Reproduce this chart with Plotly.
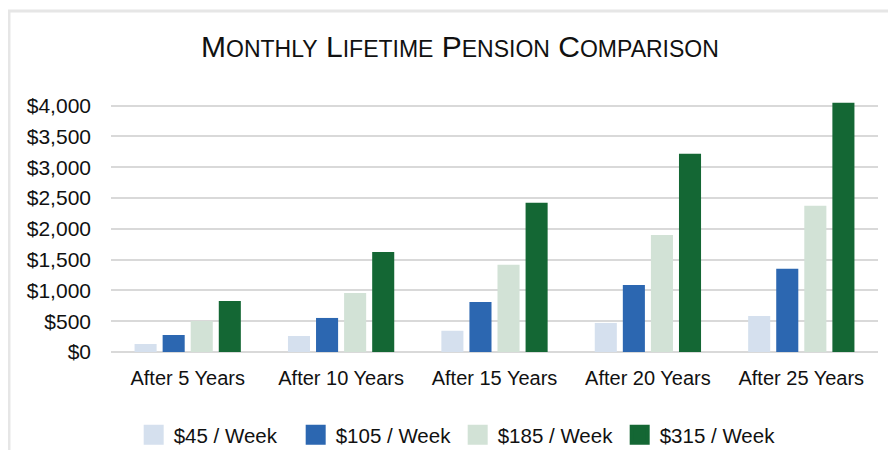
import plotly.graph_objects as go

categories = ["After 5 Years", "After 10 Years", "After 15 Years", "After 20 Years", "After 25 Years"]
series_names = ["$45 / Week", "$105 / Week", "$185 / Week", "$315 / Week"]
s45 = [130, 260, 345, 472, 585]
s105 = [276, 553, 813, 1089, 1350]
s185 = [504, 959, 1415, 1902, 2374]
s315 = [829, 1626, 2423, 3220, 4049]
y_tickvals = [0, 500, 1000, 1500, 2000, 2500, 3000, 3500, 4000]
y_ticktext = ["$0", "$500", "$1,000", "$1,500", "$2,000", "$2,500", "$3,000", "$3,500", "$4,000"]

colors = ["#d5e0ee", "#2c67b1", "#d2e2d6", "#146734"]
FONT = "Liberation Sans, Arial, sans-serif"

fig = go.Figure()
for name, vals, col in zip(series_names, [s45, s105, s185, s315], colors):
    fig.add_trace(go.Bar(x=categories, y=vals, name=name, marker_color=col,
                         marker_line_width=0, showlegend=False))
    # legend proxy with larger square swatch
    fig.add_trace(go.Scatter(x=[None], y=[None], mode="markers", name=name,
                             marker=dict(symbol="square", size=16, color=col,
                                         line=dict(color=col, width=4)),
                             showlegend=True))

def smallcaps(text, big=30, small=23):
    out = []
    for word in text.split(" "):
        out.append(f"<span style='font-size:{big}px'>{word[0]}</span>"
                   f"<span style='font-size:{small}px'>{word[1:].upper()}</span>")
    return " ".join(out)

fig.update_layout(
    width=880, height=442,
    margin=dict(l=103, r=10, t=94, b=98),
    paper_bgcolor="white", plot_bgcolor="white",
    font=dict(family=FONT, size=20, color="#111111"),
    title=dict(text=smallcaps("Monthly Lifetime Pension Comparison"),
               x=0.5136, xref="container", xanchor="center",
               y=0.9118, yref="container", yanchor="middle",
               font=dict(family=FONT, size=30, color="#111111")),
    barmode="group", bargap=0.268, bargroupgap=0.214,
    xaxis=dict(showgrid=False, showline=False, zeroline=False, automargin=False,
               tickfont=dict(size=20), ticklabelstandoff=12),
    yaxis=dict(range=[0, 4060], tickvals=y_tickvals, ticktext=y_ticktext,
               showgrid=True, gridcolor="#d9d9d9", gridwidth=1.5,
               zeroline=True, zerolinecolor="#d9d9d9", zerolinewidth=1.5,
               automargin=False,
               showline=False, tickfont=dict(size=21), ticklabelstandoff=19),
    legend=dict(orientation="h", x=0.452, xanchor="center",
                y=0.034, yref="container", yanchor="middle",
                font=dict(size=20.5), entrywidth=117, bgcolor="rgba(0,0,0,0)"),
    shapes=[dict(type="rect", xref="paper", yref="paper",
                 x0=-0.1330, x1=1.3, y0=-1.0, y1=1.364,
                 line=dict(color="#e6e6e6", width=3), fillcolor="rgba(0,0,0,0)",
                 layer="below")],
)

fig.write_html("out.html")
